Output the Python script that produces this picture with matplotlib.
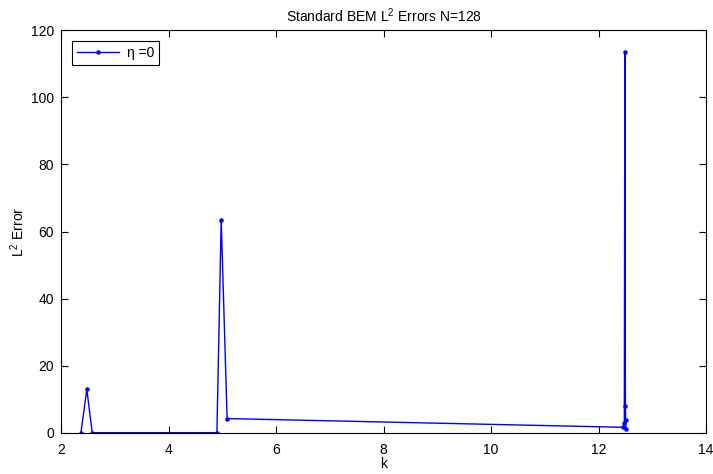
import matplotlib
matplotlib.use("Agg")
import matplotlib.pyplot as plt

plt.rcParams['font.family'] = ['Liberation Sans', 'DejaVu Sans']
plt.rcParams['mathtext.default'] = 'regular'

# wavenumber k and the L2 error of the standard BEM solve (eta = 0)
k = [2.37, 2.48, 2.58, 4.90, 4.98, 5.09, 12.46, 12.48, 12.49, 12.50, 12.505, 12.51]
err = [0.1, 13.0, 0.1, 0.1, 63.4, 4.3, 1.7, 3.1, 113.5, 8.0, 3.9, 1.1]
series_label = "\u03b7 =0"

xticks = [2, 4, 6, 8, 10, 12, 14]
yticks = [0, 20, 40, 60, 80, 100, 120]

fig = plt.figure(figsize=(7.13, 4.74), dpi=100)
ax = fig.add_axes([0.0856, 0.0865, 0.9046, 0.8502])

ax.plot(k, err, color='blue', linewidth=1.0, marker='.', markersize=4.5,
        label=series_label)

ax.set_xlim(2, 14)
ax.set_ylim(0, 120)
ax.set_xticks(xticks)
ax.set_yticks(yticks)
ax.tick_params(direction='in', length=5, width=0.8, top=True, right=True,
               labelsize=10, pad=5)
ax.tick_params(axis='x', pad=7)
for sp in ax.spines.values():
    sp.set_linewidth(0.8)

ax.set_title("Standard BEM L$^2$ Errors N=128", fontsize=10, pad=6)
ax.set_xlabel("k", fontsize=10, labelpad=0)
ax.set_ylabel("L$^2$ Error", fontsize=10, labelpad=3)

leg = ax.legend(loc='upper left', fontsize=10, fancybox=False,
                edgecolor='black', framealpha=1, borderpad=0.35,
                handlelength=3.0, handletextpad=0.6, borderaxespad=0.8)
leg.get_frame().set_linewidth(0.8)

fig.savefig("out.png", dpi=100)
